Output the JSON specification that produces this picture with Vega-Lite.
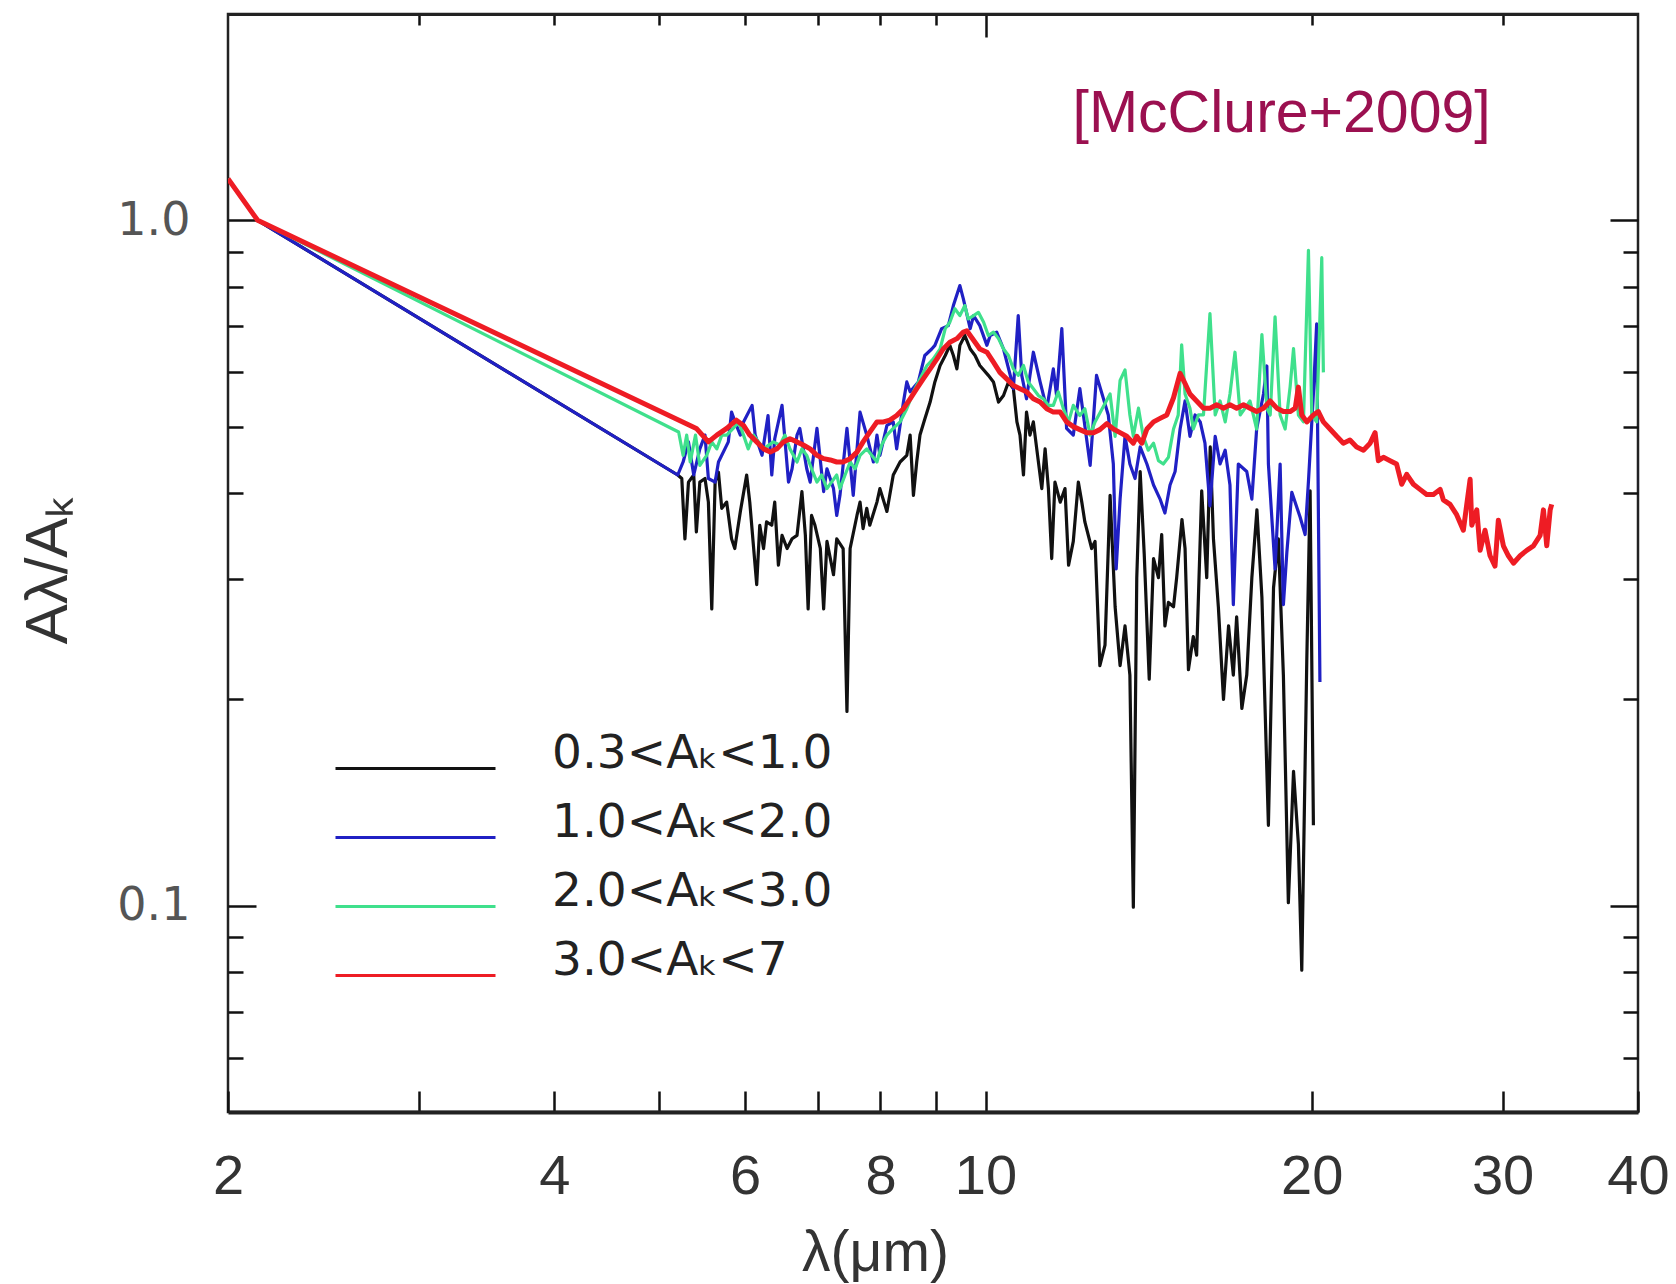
{
  "$schema": "https://vega.github.io/schema/vega-lite/v6.json",
  "width": 1410,
  "height": 1098,
  "autosize": {"type": "none"},
  "padding": {"left": 228, "top": 14, "right": 38, "bottom": 172},
  "background": "white",
  "config": {
    "view": {"stroke": "#222", "strokeWidth": 2.5},
    "axis": {"grid": false},
    "font": "Liberation Sans"
  },
  "datasets": {
    "spectra": [
      {"s": "0.3<Aₖ<1.0", "x": 2.0, "y": 1.15}, {"s": "0.3<Aₖ<1.0", "x": 2.13, "y": 1.0}, {"s": "0.3<Aₖ<1.0", "x": 5.2, "y": 0.425},
      {"s": "0.3<Aₖ<1.0", "x": 5.245, "y": 0.42}, {"s": "0.3<Aₖ<1.0", "x": 5.28, "y": 0.343}, {"s": "0.3<Aₖ<1.0", "x": 5.32, "y": 0.415}, {"s": "0.3<Aₖ<1.0", "x": 5.38, "y": 0.425}, {"s": "0.3<Aₖ<1.0", "x": 5.41, "y": 0.351}, {"s": "0.3<Aₖ<1.0", "x": 5.45, "y": 0.415}, {"s": "0.3<Aₖ<1.0", "x": 5.51, "y": 0.42}, {"s": "0.3<Aₖ<1.0", "x": 5.55, "y": 0.388}, {"s": "0.3<Aₖ<1.0", "x": 5.59, "y": 0.271}, {"s": "0.3<Aₖ<1.0", "x": 5.63, "y": 0.415}, {"s": "0.3<Aₖ<1.0", "x": 5.67, "y": 0.429}, {"s": "0.3<Aₖ<1.0", "x": 5.71, "y": 0.38}, {"s": "0.3<Aₖ<1.0", "x": 5.77, "y": 0.388}, {"s": "0.3<Aₖ<1.0", "x": 5.83, "y": 0.343}, {"s": "0.3<Aₖ<1.0", "x": 5.87, "y": 0.332}, {"s": "0.3<Aₖ<1.0", "x": 5.94, "y": 0.376}, {"s": "0.3<Aₖ<1.0", "x": 6.02, "y": 0.425}, {"s": "0.3<Aₖ<1.0", "x": 6.06, "y": 0.388}, {"s": "0.3<Aₖ<1.0", "x": 6.15, "y": 0.294}, {"s": "0.3<Aₖ<1.0", "x": 6.19, "y": 0.359}, {"s": "0.3<Aₖ<1.0", "x": 6.24, "y": 0.332}, {"s": "0.3<Aₖ<1.0", "x": 6.28, "y": 0.363}, {"s": "0.3<Aₖ<1.0", "x": 6.35, "y": 0.359}, {"s": "0.3<Aₖ<1.0", "x": 6.39, "y": 0.388}, {"s": "0.3<Aₖ<1.0", "x": 6.44, "y": 0.314}, {"s": "0.3<Aₖ<1.0", "x": 6.49, "y": 0.347}, {"s": "0.3<Aₖ<1.0", "x": 6.56, "y": 0.332}, {"s": "0.3<Aₖ<1.0", "x": 6.63, "y": 0.343}, {"s": "0.3<Aₖ<1.0", "x": 6.7, "y": 0.347}, {"s": "0.3<Aₖ<1.0", "x": 6.77, "y": 0.402}, {"s": "0.3<Aₖ<1.0", "x": 6.82, "y": 0.347}, {"s": "0.3<Aₖ<1.0", "x": 6.86, "y": 0.271}, {"s": "0.3<Aₖ<1.0", "x": 6.91, "y": 0.371}, {"s": "0.3<Aₖ<1.0", "x": 6.96, "y": 0.359}, {"s": "0.3<Aₖ<1.0", "x": 7.04, "y": 0.332}, {"s": "0.3<Aₖ<1.0", "x": 7.09, "y": 0.271}, {"s": "0.3<Aₖ<1.0", "x": 7.14, "y": 0.34}, {"s": "0.3<Aₖ<1.0", "x": 7.24, "y": 0.304}, {"s": "0.3<Aₖ<1.0", "x": 7.29, "y": 0.343}, {"s": "0.3<Aₖ<1.0", "x": 7.39, "y": 0.332}, {"s": "0.3<Aₖ<1.0", "x": 7.45, "y": 0.192}, {"s": "0.3<Aₖ<1.0", "x": 7.5, "y": 0.332}, {"s": "0.3<Aₖ<1.0", "x": 7.61, "y": 0.371}, {"s": "0.3<Aₖ<1.0", "x": 7.66, "y": 0.388}, {"s": "0.3<Aₖ<1.0", "x": 7.71, "y": 0.355}, {"s": "0.3<Aₖ<1.0", "x": 7.77, "y": 0.38}, {"s": "0.3<Aₖ<1.0", "x": 7.82, "y": 0.359}, {"s": "0.3<Aₖ<1.0", "x": 7.94, "y": 0.388}, {"s": "0.3<Aₖ<1.0", "x": 7.99, "y": 0.406}, {"s": "0.3<Aₖ<1.0", "x": 8.11, "y": 0.376}, {"s": "0.3<Aₖ<1.0", "x": 8.22, "y": 0.425}, {"s": "0.3<Aₖ<1.0", "x": 8.34, "y": 0.444}, {"s": "0.3<Aₖ<1.0", "x": 8.46, "y": 0.454}, {"s": "0.3<Aₖ<1.0", "x": 8.52, "y": 0.486}, {"s": "0.3<Aₖ<1.0", "x": 8.58, "y": 0.397}, {"s": "0.3<Aₖ<1.0", "x": 8.64, "y": 0.444}, {"s": "0.3<Aₖ<1.0", "x": 8.7, "y": 0.486}, {"s": "0.3<Aₖ<1.0", "x": 8.79, "y": 0.513}, {"s": "0.3<Aₖ<1.0", "x": 8.89, "y": 0.543}, {"s": "0.3<Aₖ<1.0", "x": 8.98, "y": 0.581}, {"s": "0.3<Aₖ<1.0", "x": 9.08, "y": 0.614}, {"s": "0.3<Aₖ<1.0", "x": 9.18, "y": 0.635}, {"s": "0.3<Aₖ<1.0", "x": 9.27, "y": 0.657}, {"s": "0.3<Aₖ<1.0", "x": 9.34, "y": 0.635}, {"s": "0.3<Aₖ<1.0", "x": 9.41, "y": 0.607}, {"s": "0.3<Aₖ<1.0", "x": 9.47, "y": 0.657}, {"s": "0.3<Aₖ<1.0", "x": 9.57, "y": 0.679}, {"s": "0.3<Aₖ<1.0", "x": 9.68, "y": 0.649}, {"s": "0.3<Aₖ<1.0", "x": 9.78, "y": 0.635}, {"s": "0.3<Aₖ<1.0", "x": 9.88, "y": 0.614}, {"s": "0.3<Aₖ<1.0", "x": 10.06, "y": 0.594}, {"s": "0.3<Aₖ<1.0", "x": 10.17, "y": 0.581}, {"s": "0.3<Aₖ<1.0", "x": 10.28, "y": 0.543}, {"s": "0.3<Aₖ<1.0", "x": 10.39, "y": 0.555}, {"s": "0.3<Aₖ<1.0", "x": 10.5, "y": 0.581}, {"s": "0.3<Aₖ<1.0", "x": 10.61, "y": 0.568}, {"s": "0.3<Aₖ<1.0", "x": 10.69, "y": 0.508}, {"s": "0.3<Aₖ<1.0", "x": 10.76, "y": 0.486}, {"s": "0.3<Aₖ<1.0", "x": 10.84, "y": 0.425}, {"s": "0.3<Aₖ<1.0", "x": 10.91, "y": 0.525}, {"s": "0.3<Aₖ<1.0", "x": 10.99, "y": 0.486}, {"s": "0.3<Aₖ<1.0", "x": 11.07, "y": 0.508}, {"s": "0.3<Aₖ<1.0", "x": 11.15, "y": 0.464}, {"s": "0.3<Aₖ<1.0", "x": 11.27, "y": 0.406}, {"s": "0.3<Aₖ<1.0", "x": 11.35, "y": 0.464}, {"s": "0.3<Aₖ<1.0", "x": 11.43, "y": 0.406}, {"s": "0.3<Aₖ<1.0", "x": 11.51, "y": 0.321}, {"s": "0.3<Aₖ<1.0", "x": 11.59, "y": 0.415}, {"s": "0.3<Aₖ<1.0", "x": 11.72, "y": 0.388}, {"s": "0.3<Aₖ<1.0", "x": 11.84, "y": 0.406}, {"s": "0.3<Aₖ<1.0", "x": 11.93, "y": 0.314}, {"s": "0.3<Aₖ<1.0", "x": 12.05, "y": 0.34}, {"s": "0.3<Aₖ<1.0", "x": 12.18, "y": 0.415}, {"s": "0.3<Aₖ<1.0", "x": 12.27, "y": 0.388}, {"s": "0.3<Aₖ<1.0", "x": 12.35, "y": 0.363}, {"s": "0.3<Aₖ<1.0", "x": 12.53, "y": 0.332}, {"s": "0.3<Aₖ<1.0", "x": 12.62, "y": 0.34}, {"s": "0.3<Aₖ<1.0", "x": 12.75, "y": 0.224}, {"s": "0.3<Aₖ<1.0", "x": 12.89, "y": 0.24}, {"s": "0.3<Aₖ<1.0", "x": 13.03, "y": 0.397}, {"s": "0.3<Aₖ<1.0", "x": 13.17, "y": 0.273}, {"s": "0.3<Aₖ<1.0", "x": 13.31, "y": 0.224}, {"s": "0.3<Aₖ<1.0", "x": 13.45, "y": 0.256}, {"s": "0.3<Aₖ<1.0", "x": 13.59, "y": 0.217}, {"s": "0.3<Aₖ<1.0", "x": 13.69, "y": 0.0995}, {"s": "0.3<Aₖ<1.0", "x": 13.79, "y": 0.301}, {"s": "0.3<Aₖ<1.0", "x": 13.89, "y": 0.43}, {"s": "0.3<Aₖ<1.0", "x": 14.01, "y": 0.326}, {"s": "0.3<Aₖ<1.0", "x": 14.16, "y": 0.214}, {"s": "0.3<Aₖ<1.0", "x": 14.29, "y": 0.321}, {"s": "0.3<Aₖ<1.0", "x": 14.44, "y": 0.301}, {"s": "0.3<Aₖ<1.0", "x": 14.54, "y": 0.348}, {"s": "0.3<Aₖ<1.0", "x": 14.64, "y": 0.256}, {"s": "0.3<Aₖ<1.0", "x": 14.75, "y": 0.277}, {"s": "0.3<Aₖ<1.0", "x": 14.91, "y": 0.273}, {"s": "0.3<Aₖ<1.0", "x": 15.01, "y": 0.301}, {"s": "0.3<Aₖ<1.0", "x": 15.18, "y": 0.366}, {"s": "0.3<Aₖ<1.0", "x": 15.28, "y": 0.332}, {"s": "0.3<Aₖ<1.0", "x": 15.39, "y": 0.221}, {"s": "0.3<Aₖ<1.0", "x": 15.55, "y": 0.247}, {"s": "0.3<Aₖ<1.0", "x": 15.66, "y": 0.232}, {"s": "0.3<Aₖ<1.0", "x": 15.83, "y": 0.403}, {"s": "0.3<Aₖ<1.0", "x": 16.0, "y": 0.301}, {"s": "0.3<Aₖ<1.0", "x": 16.12, "y": 0.467}, {"s": "0.3<Aₖ<1.0", "x": 16.23, "y": 0.343}, {"s": "0.3<Aₖ<1.0", "x": 16.4, "y": 0.273}, {"s": "0.3<Aₖ<1.0", "x": 16.58, "y": 0.2}, {"s": "0.3<Aₖ<1.0", "x": 16.76, "y": 0.256}, {"s": "0.3<Aₖ<1.0", "x": 16.93, "y": 0.217}, {"s": "0.3<Aₖ<1.0", "x": 17.05, "y": 0.264}, {"s": "0.3<Aₖ<1.0", "x": 17.24, "y": 0.194}, {"s": "0.3<Aₖ<1.0", "x": 17.42, "y": 0.217}, {"s": "0.3<Aₖ<1.0", "x": 17.61, "y": 0.301}, {"s": "0.3<Aₖ<1.0", "x": 17.8, "y": 0.378}, {"s": "0.3<Aₖ<1.0", "x": 17.99, "y": 0.282}, {"s": "0.3<Aₖ<1.0", "x": 18.24, "y": 0.131}, {"s": "0.3<Aₖ<1.0", "x": 18.44, "y": 0.291}, {"s": "0.3<Aₖ<1.0", "x": 18.63, "y": 0.343}, {"s": "0.3<Aₖ<1.0", "x": 18.83, "y": 0.217}, {"s": "0.3<Aₖ<1.0", "x": 19.03, "y": 0.101}, {"s": "0.3<Aₖ<1.0", "x": 19.24, "y": 0.157}, {"s": "0.3<Aₖ<1.0", "x": 19.44, "y": 0.123}, {"s": "0.3<Aₖ<1.0", "x": 19.58, "y": 0.0805}, {"s": "0.3<Aₖ<1.0", "x": 19.79, "y": 0.228}, {"s": "0.3<Aₖ<1.0", "x": 19.93, "y": 0.403}, {"s": "0.3<Aₖ<1.0", "x": 20.07, "y": 0.131},

      {"s": "1.0<Aₖ<2.0", "x": 2.0, "y": 1.15}, {"s": "1.0<Aₖ<2.0", "x": 2.13, "y": 1.0}, {"s": "1.0<Aₖ<2.0", "x": 5.2, "y": 0.425},
      {"s": "1.0<Aₖ<2.0", "x": 5.26, "y": 0.444}, {"s": "1.0<Aₖ<2.0", "x": 5.32, "y": 0.475}, {"s": "1.0<Aₖ<2.0", "x": 5.38, "y": 0.425}, {"s": "1.0<Aₖ<2.0", "x": 5.45, "y": 0.464}, {"s": "1.0<Aₖ<2.0", "x": 5.51, "y": 0.486}, {"s": "1.0<Aₖ<2.0", "x": 5.55, "y": 0.42}, {"s": "1.0<Aₖ<2.0", "x": 5.63, "y": 0.415}, {"s": "1.0<Aₖ<2.0", "x": 5.67, "y": 0.444}, {"s": "1.0<Aₖ<2.0", "x": 5.79, "y": 0.475}, {"s": "1.0<Aₖ<2.0", "x": 5.83, "y": 0.525}, {"s": "1.0<Aₖ<2.0", "x": 5.89, "y": 0.502}, {"s": "1.0<Aₖ<2.0", "x": 5.94, "y": 0.486}, {"s": "1.0<Aₖ<2.0", "x": 5.98, "y": 0.508}, {"s": "1.0<Aₖ<2.0", "x": 6.09, "y": 0.537}, {"s": "1.0<Aₖ<2.0", "x": 6.13, "y": 0.486}, {"s": "1.0<Aₖ<2.0", "x": 6.22, "y": 0.454}, {"s": "1.0<Aₖ<2.0", "x": 6.3, "y": 0.519}, {"s": "1.0<Aₖ<2.0", "x": 6.35, "y": 0.425}, {"s": "1.0<Aₖ<2.0", "x": 6.39, "y": 0.48}, {"s": "1.0<Aₖ<2.0", "x": 6.49, "y": 0.537}, {"s": "1.0<Aₖ<2.0", "x": 6.58, "y": 0.415}, {"s": "1.0<Aₖ<2.0", "x": 6.63, "y": 0.434}, {"s": "1.0<Aₖ<2.0", "x": 6.7, "y": 0.486}, {"s": "1.0<Aₖ<2.0", "x": 6.74, "y": 0.497}, {"s": "1.0<Aₖ<2.0", "x": 6.84, "y": 0.434}, {"s": "1.0<Aₖ<2.0", "x": 6.89, "y": 0.415}, {"s": "1.0<Aₖ<2.0", "x": 6.99, "y": 0.497}, {"s": "1.0<Aₖ<2.0", "x": 7.09, "y": 0.402}, {"s": "1.0<Aₖ<2.0", "x": 7.14, "y": 0.434}, {"s": "1.0<Aₖ<2.0", "x": 7.24, "y": 0.406}, {"s": "1.0<Aₖ<2.0", "x": 7.29, "y": 0.371}, {"s": "1.0<Aₖ<2.0", "x": 7.34, "y": 0.397}, {"s": "1.0<Aₖ<2.0", "x": 7.45, "y": 0.497}, {"s": "1.0<Aₖ<2.0", "x": 7.55, "y": 0.397}, {"s": "1.0<Aₖ<2.0", "x": 7.66, "y": 0.525}, {"s": "1.0<Aₖ<2.0", "x": 7.77, "y": 0.486}, {"s": "1.0<Aₖ<2.0", "x": 7.88, "y": 0.444}, {"s": "1.0<Aₖ<2.0", "x": 7.94, "y": 0.486}, {"s": "1.0<Aₖ<2.0", "x": 7.99, "y": 0.454}, {"s": "1.0<Aₖ<2.0", "x": 8.11, "y": 0.502}, {"s": "1.0<Aₖ<2.0", "x": 8.22, "y": 0.508}, {"s": "1.0<Aₖ<2.0", "x": 8.28, "y": 0.464}, {"s": "1.0<Aₖ<2.0", "x": 8.4, "y": 0.543}, {"s": "1.0<Aₖ<2.0", "x": 8.46, "y": 0.581}, {"s": "1.0<Aₖ<2.0", "x": 8.52, "y": 0.562}, {"s": "1.0<Aₖ<2.0", "x": 8.67, "y": 0.581}, {"s": "1.0<Aₖ<2.0", "x": 8.79, "y": 0.635}, {"s": "1.0<Aₖ<2.0", "x": 8.92, "y": 0.649}, {"s": "1.0<Aₖ<2.0", "x": 8.98, "y": 0.657}, {"s": "1.0<Aₖ<2.0", "x": 9.11, "y": 0.695}, {"s": "1.0<Aₖ<2.0", "x": 9.24, "y": 0.702}, {"s": "1.0<Aₖ<2.0", "x": 9.34, "y": 0.751}, {"s": "1.0<Aₖ<2.0", "x": 9.47, "y": 0.803}, {"s": "1.0<Aₖ<2.0", "x": 9.54, "y": 0.768}, {"s": "1.0<Aₖ<2.0", "x": 9.68, "y": 0.695}, {"s": "1.0<Aₖ<2.0", "x": 9.75, "y": 0.726}, {"s": "1.0<Aₖ<2.0", "x": 9.88, "y": 0.702}, {"s": "1.0<Aₖ<2.0", "x": 10.03, "y": 0.657}, {"s": "1.0<Aₖ<2.0", "x": 10.1, "y": 0.679}, {"s": "1.0<Aₖ<2.0", "x": 10.24, "y": 0.687}, {"s": "1.0<Aₖ<2.0", "x": 10.39, "y": 0.649}, {"s": "1.0<Aₖ<2.0", "x": 10.54, "y": 0.594}, {"s": "1.0<Aₖ<2.0", "x": 10.61, "y": 0.568}, {"s": "1.0<Aₖ<2.0", "x": 10.72, "y": 0.726}, {"s": "1.0<Aₖ<2.0", "x": 10.8, "y": 0.594}, {"s": "1.0<Aₖ<2.0", "x": 10.91, "y": 0.549}, {"s": "1.0<Aₖ<2.0", "x": 11.07, "y": 0.642}, {"s": "1.0<Aₖ<2.0", "x": 11.23, "y": 0.581}, {"s": "1.0<Aₖ<2.0", "x": 11.39, "y": 0.531}, {"s": "1.0<Aₖ<2.0", "x": 11.55, "y": 0.607}, {"s": "1.0<Aₖ<2.0", "x": 11.63, "y": 0.555}, {"s": "1.0<Aₖ<2.0", "x": 11.76, "y": 0.695}, {"s": "1.0<Aₖ<2.0", "x": 11.88, "y": 0.497}, {"s": "1.0<Aₖ<2.0", "x": 12.05, "y": 0.486}, {"s": "1.0<Aₖ<2.0", "x": 12.22, "y": 0.568}, {"s": "1.0<Aₖ<2.0", "x": 12.49, "y": 0.439}, {"s": "1.0<Aₖ<2.0", "x": 12.66, "y": 0.594}, {"s": "1.0<Aₖ<2.0", "x": 12.98, "y": 0.52}, {"s": "1.0<Aₖ<2.0", "x": 13.12, "y": 0.441}, {"s": "1.0<Aₖ<2.0", "x": 13.2, "y": 0.31}, {"s": "1.0<Aₖ<2.0", "x": 13.31, "y": 0.392}, {"s": "1.0<Aₖ<2.0", "x": 13.45, "y": 0.484}, {"s": "1.0<Aₖ<2.0", "x": 13.59, "y": 0.441}, {"s": "1.0<Aₖ<2.0", "x": 13.74, "y": 0.42}, {"s": "1.0<Aₖ<2.0", "x": 13.89, "y": 0.467}, {"s": "1.0<Aₖ<2.0", "x": 14.09, "y": 0.441}, {"s": "1.0<Aₖ<2.0", "x": 14.29, "y": 0.411}, {"s": "1.0<Aₖ<2.0", "x": 14.49, "y": 0.392}, {"s": "1.0<Aₖ<2.0", "x": 14.64, "y": 0.374}, {"s": "1.0<Aₖ<2.0", "x": 14.8, "y": 0.411}, {"s": "1.0<Aₖ<2.0", "x": 14.96, "y": 0.43}, {"s": "1.0<Aₖ<2.0", "x": 15.12, "y": 0.496}, {"s": "1.0<Aₖ<2.0", "x": 15.28, "y": 0.545}, {"s": "1.0<Aₖ<2.0", "x": 15.44, "y": 0.484}, {"s": "1.0<Aₖ<2.0", "x": 15.61, "y": 0.52}, {"s": "1.0<Aₖ<2.0", "x": 15.78, "y": 0.508}, {"s": "1.0<Aₖ<2.0", "x": 15.94, "y": 0.473}, {"s": "1.0<Aₖ<2.0", "x": 16.11, "y": 0.383}, {"s": "1.0<Aₖ<2.0", "x": 16.29, "y": 0.484}, {"s": "1.0<Aₖ<2.0", "x": 16.46, "y": 0.441}, {"s": "1.0<Aₖ<2.0", "x": 16.64, "y": 0.462}, {"s": "1.0<Aₖ<2.0", "x": 16.81, "y": 0.411}, {"s": "1.0<Aₖ<2.0", "x": 16.93, "y": 0.275}, {"s": "1.0<Aₖ<2.0", "x": 17.11, "y": 0.441}, {"s": "1.0<Aₖ<2.0", "x": 17.42, "y": 0.43}, {"s": "1.0<Aₖ<2.0", "x": 17.61, "y": 0.392}, {"s": "1.0<Aₖ<2.0", "x": 17.79, "y": 0.496}, {"s": "1.0<Aₖ<2.0", "x": 18.05, "y": 0.558}, {"s": "1.0<Aₖ<2.0", "x": 18.18, "y": 0.613}, {"s": "1.0<Aₖ<2.0", "x": 18.24, "y": 0.441}, {"s": "1.0<Aₖ<2.0", "x": 18.5, "y": 0.31}, {"s": "1.0<Aₖ<2.0", "x": 18.7, "y": 0.441}, {"s": "1.0<Aₖ<2.0", "x": 18.83, "y": 0.275}, {"s": "1.0<Aₖ<2.0", "x": 18.97, "y": 0.328}, {"s": "1.0<Aₖ<2.0", "x": 19.17, "y": 0.401}, {"s": "1.0<Aₖ<2.0", "x": 19.51, "y": 0.369}, {"s": "1.0<Aₖ<2.0", "x": 19.72, "y": 0.348}, {"s": "1.0<Aₖ<2.0", "x": 19.86, "y": 0.416}, {"s": "1.0<Aₖ<2.0", "x": 20.07, "y": 0.558}, {"s": "1.0<Aₖ<2.0", "x": 20.21, "y": 0.706}, {"s": "1.0<Aₖ<2.0", "x": 20.35, "y": 0.212},

      {"s": "2.0<Aₖ<3.0", "x": 2.0, "y": 1.15}, {"s": "2.0<Aₖ<3.0", "x": 2.13, "y": 1.0}, {"s": "2.0<Aₖ<3.0", "x": 5.21, "y": 0.491},
      {"s": "2.0<Aₖ<3.0", "x": 5.26, "y": 0.454}, {"s": "2.0<Aₖ<3.0", "x": 5.3, "y": 0.486}, {"s": "2.0<Aₖ<3.0", "x": 5.34, "y": 0.444}, {"s": "2.0<Aₖ<3.0", "x": 5.4, "y": 0.486}, {"s": "2.0<Aₖ<3.0", "x": 5.45, "y": 0.439}, {"s": "2.0<Aₖ<3.0", "x": 5.53, "y": 0.454}, {"s": "2.0<Aₖ<3.0", "x": 5.59, "y": 0.475}, {"s": "2.0<Aₖ<3.0", "x": 5.65, "y": 0.464}, {"s": "2.0<Aₖ<3.0", "x": 5.71, "y": 0.486}, {"s": "2.0<Aₖ<3.0", "x": 5.77, "y": 0.486}, {"s": "2.0<Aₖ<3.0", "x": 5.85, "y": 0.497}, {"s": "2.0<Aₖ<3.0", "x": 5.92, "y": 0.508}, {"s": "2.0<Aₖ<3.0", "x": 5.98, "y": 0.486}, {"s": "2.0<Aₖ<3.0", "x": 6.04, "y": 0.464}, {"s": "2.0<Aₖ<3.0", "x": 6.11, "y": 0.486}, {"s": "2.0<Aₖ<3.0", "x": 6.24, "y": 0.464}, {"s": "2.0<Aₖ<3.0", "x": 6.37, "y": 0.475}, {"s": "2.0<Aₖ<3.0", "x": 6.46, "y": 0.47}, {"s": "2.0<Aₖ<3.0", "x": 6.53, "y": 0.486}, {"s": "2.0<Aₖ<3.0", "x": 6.6, "y": 0.464}, {"s": "2.0<Aₖ<3.0", "x": 6.7, "y": 0.444}, {"s": "2.0<Aₖ<3.0", "x": 6.77, "y": 0.464}, {"s": "2.0<Aₖ<3.0", "x": 6.84, "y": 0.454}, {"s": "2.0<Aₖ<3.0", "x": 6.91, "y": 0.434}, {"s": "2.0<Aₖ<3.0", "x": 6.99, "y": 0.415}, {"s": "2.0<Aₖ<3.0", "x": 7.06, "y": 0.425}, {"s": "2.0<Aₖ<3.0", "x": 7.14, "y": 0.406}, {"s": "2.0<Aₖ<3.0", "x": 7.21, "y": 0.415}, {"s": "2.0<Aₖ<3.0", "x": 7.29, "y": 0.425}, {"s": "2.0<Aₖ<3.0", "x": 7.34, "y": 0.406}, {"s": "2.0<Aₖ<3.0", "x": 7.42, "y": 0.425}, {"s": "2.0<Aₖ<3.0", "x": 7.5, "y": 0.444}, {"s": "2.0<Aₖ<3.0", "x": 7.58, "y": 0.434}, {"s": "2.0<Aₖ<3.0", "x": 7.66, "y": 0.454}, {"s": "2.0<Aₖ<3.0", "x": 7.77, "y": 0.464}, {"s": "2.0<Aₖ<3.0", "x": 7.94, "y": 0.444}, {"s": "2.0<Aₖ<3.0", "x": 8.02, "y": 0.47}, {"s": "2.0<Aₖ<3.0", "x": 8.11, "y": 0.486}, {"s": "2.0<Aₖ<3.0", "x": 8.22, "y": 0.497}, {"s": "2.0<Aₖ<3.0", "x": 8.34, "y": 0.508}, {"s": "2.0<Aₖ<3.0", "x": 8.46, "y": 0.531}, {"s": "2.0<Aₖ<3.0", "x": 8.58, "y": 0.562}, {"s": "2.0<Aₖ<3.0", "x": 8.7, "y": 0.587}, {"s": "2.0<Aₖ<3.0", "x": 8.83, "y": 0.614}, {"s": "2.0<Aₖ<3.0", "x": 8.95, "y": 0.628}, {"s": "2.0<Aₖ<3.0", "x": 9.08, "y": 0.649}, {"s": "2.0<Aₖ<3.0", "x": 9.18, "y": 0.695}, {"s": "2.0<Aₖ<3.0", "x": 9.27, "y": 0.71}, {"s": "2.0<Aₖ<3.0", "x": 9.37, "y": 0.743}, {"s": "2.0<Aₖ<3.0", "x": 9.47, "y": 0.726}, {"s": "2.0<Aₖ<3.0", "x": 9.57, "y": 0.751}, {"s": "2.0<Aₖ<3.0", "x": 9.64, "y": 0.718}, {"s": "2.0<Aₖ<3.0", "x": 9.75, "y": 0.726}, {"s": "2.0<Aₖ<3.0", "x": 9.85, "y": 0.734}, {"s": "2.0<Aₖ<3.0", "x": 9.96, "y": 0.71}, {"s": "2.0<Aₖ<3.0", "x": 10.06, "y": 0.679}, {"s": "2.0<Aₖ<3.0", "x": 10.17, "y": 0.687}, {"s": "2.0<Aₖ<3.0", "x": 10.28, "y": 0.672}, {"s": "2.0<Aₖ<3.0", "x": 10.39, "y": 0.649}, {"s": "2.0<Aₖ<3.0", "x": 10.5, "y": 0.635}, {"s": "2.0<Aₖ<3.0", "x": 10.61, "y": 0.607}, {"s": "2.0<Aₖ<3.0", "x": 10.72, "y": 0.594}, {"s": "2.0<Aₖ<3.0", "x": 10.84, "y": 0.614}, {"s": "2.0<Aₖ<3.0", "x": 10.95, "y": 0.581}, {"s": "2.0<Aₖ<3.0", "x": 11.07, "y": 0.568}, {"s": "2.0<Aₖ<3.0", "x": 11.19, "y": 0.555}, {"s": "2.0<Aₖ<3.0", "x": 11.31, "y": 0.549}, {"s": "2.0<Aₖ<3.0", "x": 11.43, "y": 0.537}, {"s": "2.0<Aₖ<3.0", "x": 11.55, "y": 0.537}, {"s": "2.0<Aₖ<3.0", "x": 11.67, "y": 0.562}, {"s": "2.0<Aₖ<3.0", "x": 11.8, "y": 0.531}, {"s": "2.0<Aₖ<3.0", "x": 11.93, "y": 0.508}, {"s": "2.0<Aₖ<3.0", "x": 12.05, "y": 0.537}, {"s": "2.0<Aₖ<3.0", "x": 12.22, "y": 0.519}, {"s": "2.0<Aₖ<3.0", "x": 12.35, "y": 0.531}, {"s": "2.0<Aₖ<3.0", "x": 12.49, "y": 0.486}, {"s": "2.0<Aₖ<3.0", "x": 12.62, "y": 0.508}, {"s": "2.0<Aₖ<3.0", "x": 13.03, "y": 0.558}, {"s": "2.0<Aₖ<3.0", "x": 13.17, "y": 0.484}, {"s": "2.0<Aₖ<3.0", "x": 13.31, "y": 0.584}, {"s": "2.0<Aₖ<3.0", "x": 13.45, "y": 0.605}, {"s": "2.0<Aₖ<3.0", "x": 13.59, "y": 0.52}, {"s": "2.0<Aₖ<3.0", "x": 13.69, "y": 0.484}, {"s": "2.0<Aₖ<3.0", "x": 13.84, "y": 0.532}, {"s": "2.0<Aₖ<3.0", "x": 13.98, "y": 0.484}, {"s": "2.0<Aₖ<3.0", "x": 14.13, "y": 0.462}, {"s": "2.0<Aₖ<3.0", "x": 14.29, "y": 0.473}, {"s": "2.0<Aₖ<3.0", "x": 14.44, "y": 0.446}, {"s": "2.0<Aₖ<3.0", "x": 14.59, "y": 0.441}, {"s": "2.0<Aₖ<3.0", "x": 14.75, "y": 0.451}, {"s": "2.0<Aₖ<3.0", "x": 14.91, "y": 0.496}, {"s": "2.0<Aₖ<3.0", "x": 15.06, "y": 0.52}, {"s": "2.0<Aₖ<3.0", "x": 15.17, "y": 0.658}, {"s": "2.0<Aₖ<3.0", "x": 15.28, "y": 0.558}, {"s": "2.0<Aₖ<3.0", "x": 15.44, "y": 0.532}, {"s": "2.0<Aₖ<3.0", "x": 15.55, "y": 0.496}, {"s": "2.0<Aₖ<3.0", "x": 15.72, "y": 0.52}, {"s": "2.0<Aₖ<3.0", "x": 15.89, "y": 0.52}, {"s": "2.0<Aₖ<3.0", "x": 16.11, "y": 0.731}, {"s": "2.0<Aₖ<3.0", "x": 16.29, "y": 0.52}, {"s": "2.0<Aₖ<3.0", "x": 16.46, "y": 0.545}, {"s": "2.0<Aₖ<3.0", "x": 16.64, "y": 0.508}, {"s": "2.0<Aₖ<3.0", "x": 16.81, "y": 0.558}, {"s": "2.0<Aₖ<3.0", "x": 16.99, "y": 0.642}, {"s": "2.0<Aₖ<3.0", "x": 17.18, "y": 0.52}, {"s": "2.0<Aₖ<3.0", "x": 17.36, "y": 0.532}, {"s": "2.0<Aₖ<3.0", "x": 17.54, "y": 0.545}, {"s": "2.0<Aₖ<3.0", "x": 17.79, "y": 0.496}, {"s": "2.0<Aₖ<3.0", "x": 17.99, "y": 0.681}, {"s": "2.0<Aₖ<3.0", "x": 18.18, "y": 0.532}, {"s": "2.0<Aₖ<3.0", "x": 18.31, "y": 0.52}, {"s": "2.0<Aₖ<3.0", "x": 18.5, "y": 0.723}, {"s": "2.0<Aₖ<3.0", "x": 18.7, "y": 0.52}, {"s": "2.0<Aₖ<3.0", "x": 18.9, "y": 0.496}, {"s": "2.0<Aₖ<3.0", "x": 19.1, "y": 0.571}, {"s": "2.0<Aₖ<3.0", "x": 19.24, "y": 0.65}, {"s": "2.0<Aₖ<3.0", "x": 19.44, "y": 0.52}, {"s": "2.0<Aₖ<3.0", "x": 19.65, "y": 0.508}, {"s": "2.0<Aₖ<3.0", "x": 19.86, "y": 0.904}, {"s": "2.0<Aₖ<3.0", "x": 20.0, "y": 0.52}, {"s": "2.0<Aₖ<3.0", "x": 20.21, "y": 0.508}, {"s": "2.0<Aₖ<3.0", "x": 20.43, "y": 0.882}, {"s": "2.0<Aₖ<3.0", "x": 20.5, "y": 0.6},

      {"s": "3.0<Aₖ<7", "x": 2.0, "y": 1.15}, {"s": "3.0<Aₖ<7", "x": 2.13, "y": 1.0}, {"s": "3.0<Aₖ<7", "x": 5.41, "y": 0.497},
      {"s": "3.0<Aₖ<7", "x": 5.55, "y": 0.475}, {"s": "3.0<Aₖ<7", "x": 5.65, "y": 0.486}, {"s": "3.0<Aₖ<7", "x": 5.77, "y": 0.497}, {"s": "3.0<Aₖ<7", "x": 5.89, "y": 0.511}, {"s": "3.0<Aₖ<7", "x": 5.98, "y": 0.502}, {"s": "3.0<Aₖ<7", "x": 6.06, "y": 0.486}, {"s": "3.0<Aₖ<7", "x": 6.15, "y": 0.475}, {"s": "3.0<Aₖ<7", "x": 6.24, "y": 0.464}, {"s": "3.0<Aₖ<7", "x": 6.33, "y": 0.459}, {"s": "3.0<Aₖ<7", "x": 6.42, "y": 0.464}, {"s": "3.0<Aₖ<7", "x": 6.51, "y": 0.475}, {"s": "3.0<Aₖ<7", "x": 6.6, "y": 0.48}, {"s": "3.0<Aₖ<7", "x": 6.7, "y": 0.475}, {"s": "3.0<Aₖ<7", "x": 6.79, "y": 0.47}, {"s": "3.0<Aₖ<7", "x": 6.89, "y": 0.464}, {"s": "3.0<Aₖ<7", "x": 6.99, "y": 0.454}, {"s": "3.0<Aₖ<7", "x": 7.09, "y": 0.449}, {"s": "3.0<Aₖ<7", "x": 7.19, "y": 0.447}, {"s": "3.0<Aₖ<7", "x": 7.29, "y": 0.444}, {"s": "3.0<Aₖ<7", "x": 7.39, "y": 0.444}, {"s": "3.0<Aₖ<7", "x": 7.5, "y": 0.449}, {"s": "3.0<Aₖ<7", "x": 7.61, "y": 0.459}, {"s": "3.0<Aₖ<7", "x": 7.71, "y": 0.475}, {"s": "3.0<Aₖ<7", "x": 7.82, "y": 0.491}, {"s": "3.0<Aₖ<7", "x": 7.94, "y": 0.508}, {"s": "3.0<Aₖ<7", "x": 8.05, "y": 0.508}, {"s": "3.0<Aₖ<7", "x": 8.16, "y": 0.511}, {"s": "3.0<Aₖ<7", "x": 8.28, "y": 0.519}, {"s": "3.0<Aₖ<7", "x": 8.4, "y": 0.531}, {"s": "3.0<Aₖ<7", "x": 8.52, "y": 0.549}, {"s": "3.0<Aₖ<7", "x": 8.64, "y": 0.568}, {"s": "3.0<Aₖ<7", "x": 8.76, "y": 0.587}, {"s": "3.0<Aₖ<7", "x": 8.89, "y": 0.607}, {"s": "3.0<Aₖ<7", "x": 9.02, "y": 0.628}, {"s": "3.0<Aₖ<7", "x": 9.14, "y": 0.649}, {"s": "3.0<Aₖ<7", "x": 9.27, "y": 0.664}, {"s": "3.0<Aₖ<7", "x": 9.41, "y": 0.672}, {"s": "3.0<Aₖ<7", "x": 9.54, "y": 0.687}, {"s": "3.0<Aₖ<7", "x": 9.61, "y": 0.69}, {"s": "3.0<Aₖ<7", "x": 9.68, "y": 0.679}, {"s": "3.0<Aₖ<7", "x": 9.78, "y": 0.664}, {"s": "3.0<Aₖ<7", "x": 9.88, "y": 0.649}, {"s": "3.0<Aₖ<7", "x": 10.03, "y": 0.642}, {"s": "3.0<Aₖ<7", "x": 10.17, "y": 0.621}, {"s": "3.0<Aₖ<7", "x": 10.31, "y": 0.6}, {"s": "3.0<Aₖ<7", "x": 10.46, "y": 0.587}, {"s": "3.0<Aₖ<7", "x": 10.61, "y": 0.574}, {"s": "3.0<Aₖ<7", "x": 10.76, "y": 0.568}, {"s": "3.0<Aₖ<7", "x": 10.91, "y": 0.562}, {"s": "3.0<Aₖ<7", "x": 11.07, "y": 0.549}, {"s": "3.0<Aₖ<7", "x": 11.23, "y": 0.543}, {"s": "3.0<Aₖ<7", "x": 11.39, "y": 0.531}, {"s": "3.0<Aₖ<7", "x": 11.55, "y": 0.525}, {"s": "3.0<Aₖ<7", "x": 11.72, "y": 0.525}, {"s": "3.0<Aₖ<7", "x": 11.88, "y": 0.508}, {"s": "3.0<Aₖ<7", "x": 12.05, "y": 0.5}, {"s": "3.0<Aₖ<7", "x": 12.22, "y": 0.495}, {"s": "3.0<Aₖ<7", "x": 12.4, "y": 0.49}, {"s": "3.0<Aₖ<7", "x": 12.58, "y": 0.49}, {"s": "3.0<Aₖ<7", "x": 12.75, "y": 0.495}, {"s": "3.0<Aₖ<7", "x": 12.94, "y": 0.505}, {"s": "3.0<Aₖ<7", "x": 13.12, "y": 0.496}, {"s": "3.0<Aₖ<7", "x": 13.31, "y": 0.49}, {"s": "3.0<Aₖ<7", "x": 13.5, "y": 0.484}, {"s": "3.0<Aₖ<7", "x": 13.69, "y": 0.473}, {"s": "3.0<Aₖ<7", "x": 13.79, "y": 0.484}, {"s": "3.0<Aₖ<7", "x": 13.94, "y": 0.473}, {"s": "3.0<Aₖ<7", "x": 14.09, "y": 0.496}, {"s": "3.0<Aₖ<7", "x": 14.29, "y": 0.508}, {"s": "3.0<Aₖ<7", "x": 14.49, "y": 0.514}, {"s": "3.0<Aₖ<7", "x": 14.7, "y": 0.52}, {"s": "3.0<Aₖ<7", "x": 14.91, "y": 0.551}, {"s": "3.0<Aₖ<7", "x": 15.12, "y": 0.598}, {"s": "3.0<Aₖ<7", "x": 15.28, "y": 0.578}, {"s": "3.0<Aₖ<7", "x": 15.44, "y": 0.558}, {"s": "3.0<Aₖ<7", "x": 15.66, "y": 0.545}, {"s": "3.0<Aₖ<7", "x": 15.89, "y": 0.532}, {"s": "3.0<Aₖ<7", "x": 16.11, "y": 0.532}, {"s": "3.0<Aₖ<7", "x": 16.34, "y": 0.538}, {"s": "3.0<Aₖ<7", "x": 16.58, "y": 0.532}, {"s": "3.0<Aₖ<7", "x": 16.81, "y": 0.538}, {"s": "3.0<Aₖ<7", "x": 17.05, "y": 0.532}, {"s": "3.0<Aₖ<7", "x": 17.3, "y": 0.538}, {"s": "3.0<Aₖ<7", "x": 17.54, "y": 0.532}, {"s": "3.0<Aₖ<7", "x": 17.79, "y": 0.526}, {"s": "3.0<Aₖ<7", "x": 18.05, "y": 0.532}, {"s": "3.0<Aₖ<7", "x": 18.31, "y": 0.545}, {"s": "3.0<Aₖ<7", "x": 18.57, "y": 0.532}, {"s": "3.0<Aₖ<7", "x": 18.83, "y": 0.526}, {"s": "3.0<Aₖ<7", "x": 19.1, "y": 0.526}, {"s": "3.0<Aₖ<7", "x": 19.31, "y": 0.532}, {"s": "3.0<Aₖ<7", "x": 19.44, "y": 0.571}, {"s": "3.0<Aₖ<7", "x": 19.58, "y": 0.52}, {"s": "3.0<Aₖ<7", "x": 19.79, "y": 0.508}, {"s": "3.0<Aₖ<7", "x": 20.07, "y": 0.52}, {"s": "3.0<Aₖ<7", "x": 20.28, "y": 0.526}, {"s": "3.0<Aₖ<7", "x": 20.5, "y": 0.508}, {"s": "3.0<Aₖ<7", "x": 20.79, "y": 0.496}, {"s": "3.0<Aₖ<7", "x": 21.09, "y": 0.484}, {"s": "3.0<Aₖ<7", "x": 21.39, "y": 0.473}, {"s": "3.0<Aₖ<7", "x": 21.69, "y": 0.478}, {"s": "3.0<Aₖ<7", "x": 22.0, "y": 0.467}, {"s": "3.0<Aₖ<7", "x": 22.32, "y": 0.462}, {"s": "3.0<Aₖ<7", "x": 22.64, "y": 0.473}, {"s": "3.0<Aₖ<7", "x": 22.88, "y": 0.49}, {"s": "3.0<Aₖ<7", "x": 23.04, "y": 0.446}, {"s": "3.0<Aₖ<7", "x": 23.29, "y": 0.451}, {"s": "3.0<Aₖ<7", "x": 23.62, "y": 0.446}, {"s": "3.0<Aₖ<7", "x": 23.95, "y": 0.441}, {"s": "3.0<Aₖ<7", "x": 24.21, "y": 0.412}, {"s": "3.0<Aₖ<7", "x": 24.47, "y": 0.426}, {"s": "3.0<Aₖ<7", "x": 24.82, "y": 0.412}, {"s": "3.0<Aₖ<7", "x": 25.17, "y": 0.405}, {"s": "3.0<Aₖ<7", "x": 25.53, "y": 0.398}, {"s": "3.0<Aₖ<7", "x": 25.9, "y": 0.398}, {"s": "3.0<Aₖ<7", "x": 26.27, "y": 0.405}, {"s": "3.0<Aₖ<7", "x": 26.45, "y": 0.391}, {"s": "3.0<Aₖ<7", "x": 26.83, "y": 0.385}, {"s": "3.0<Aₖ<7", "x": 27.21, "y": 0.372}, {"s": "3.0<Aₖ<7", "x": 27.6, "y": 0.353}, {"s": "3.0<Aₖ<7", "x": 28.0, "y": 0.419}, {"s": "3.0<Aₖ<7", "x": 28.1, "y": 0.359}, {"s": "3.0<Aₖ<7", "x": 28.4, "y": 0.378}, {"s": "3.0<Aₖ<7", "x": 28.6, "y": 0.33}, {"s": "3.0<Aₖ<7", "x": 28.9, "y": 0.353}, {"s": "3.0<Aₖ<7", "x": 29.21, "y": 0.324}, {"s": "3.0<Aₖ<7", "x": 29.52, "y": 0.313}, {"s": "3.0<Aₖ<7", "x": 29.73, "y": 0.365}, {"s": "3.0<Aₖ<7", "x": 30.05, "y": 0.335}, {"s": "3.0<Aₖ<7", "x": 30.37, "y": 0.324}, {"s": "3.0<Aₖ<7", "x": 30.7, "y": 0.316}, {"s": "3.0<Aₖ<7", "x": 31.14, "y": 0.324}, {"s": "3.0<Aₖ<7", "x": 31.58, "y": 0.33}, {"s": "3.0<Aₖ<7", "x": 32.03, "y": 0.335}, {"s": "3.0<Aₖ<7", "x": 32.49, "y": 0.347}, {"s": "3.0<Aₖ<7", "x": 32.72, "y": 0.378}, {"s": "3.0<Aₖ<7", "x": 32.95, "y": 0.335}, {"s": "3.0<Aₖ<7", "x": 33.19, "y": 0.378}, {"s": "3.0<Aₖ<7", "x": 33.3, "y": 0.385}
    ]
  },
  "layer": [
    {
      "data": {"name": "spectra"},
      "encoding": {
        "x": {
          "field": "x", "type": "quantitative",
          "scale": {"type": "log", "domain": [2, 40], "nice": false},
          "axis": {
            "orient": "bottom",
            "values": [2, 3, 4, 5, 6, 7, 8, 9, 10, 20, 30, 40],
            "labelExpr": "indexof([3, 5, 7, 9], datum.value) >= 0 ? '' : format(datum.value, 'd')",
            "tickSize": -21, "tickWidth": 2.5, "tickColor": "#111",
            "domain": true, "domainWidth": 4, "domainColor": "#222",
            "labelPadding": 58, "labelFontSize": 56, "labelFont": "Liberation Sans", "labelColor": "#333",
            "labelBaseline": "top", "labelFlush": false, "labelOverlap": false,
            "title": "λ(μm)", "titleFont": "Liberation Sans", "titleFontSize": 57, "titleFontWeight": "normal", "titleColor": "#333",
            "titleX": 647, "titleY": 158, "titleBaseline": "alphabetic"
          }
        },
        "y": {
          "field": "y", "type": "quantitative",
          "scale": {"type": "log", "domain": [0.05, 2.0], "nice": false},
          "axis": {
            "orient": "left",
            "values": [0.06, 0.07, 0.08, 0.09, 0.1, 0.2, 0.3, 0.4, 0.5, 0.6, 0.7, 0.8, 0.9, 1],
            "labelExpr": "datum.value == 1 ? '1.0' : (datum.value == 0.1 ? '0.1' : '')",
            "tickSize": {"condition": {"test": "datum.value == 1 || datum.value == 0.1", "value": -28}, "value": -15},
            "tickWidth": 2.5, "tickColor": "#111",
            "domain": false,
            "labelPadding": 66, "labelFontSize": 46, "labelFont": "DejaVu Sans", "labelColor": "#555", "labelOverlap": false, "labelFlush": false,
            "title": "Aλ/Aₖ", "titleFont": "Liberation Sans", "titleFontSize": 60, "titleFontWeight": "normal", "titleColor": "#333",
            "titleX": -162, "titleY": 556, "titleBaseline": "alphabetic", "titleAlign": "center"
          }
        },
        "color": {
          "field": "s", "type": "nominal",
          "scale": {"domain": ["0.3<Aₖ<1.0", "1.0<Aₖ<2.0", "2.0<Aₖ<3.0", "3.0<Aₖ<7"], "range": ["#111111", "#2020c4", "#3fe08c", "#ee1c24"]},
          "legend": {
            "orient": "none", "legendX": 164, "legendY": 716, "title": null, "padding": 0,
            "symbolType": "M-4,0.75H4", "symbolSize": 1600, "symbolStrokeWidth": 3.2,
            "labelFontSize": 47, "labelFont": "DejaVu Sans", "labelColor": "#222", "labelOffset": 113, "labelLimit": 0,
            "rowPadding": 21
          }
        }
      },
      "layer": [
        {
          "transform": [{"filter": "datum.s != '3.0<Aₖ<7'"}],
          "mark": {"type": "line", "clip": true, "strokeJoin": "round", "strokeWidth": 3.2}
        },
        {
          "transform": [{"filter": "datum.s == '3.0<Aₖ<7'"}],
          "mark": {"type": "line", "clip": true, "strokeJoin": "round", "strokeWidth": 5}
        }
      ]
    },
    {
      "data": {"values": [{}]},
      "mark": {"type": "text", "fontSize": 59, "font": "Liberation Sans", "color": "#9b1050", "align": "center", "baseline": "middle"},
      "encoding": {
        "x": {"datum": 18.76, "type": "quantitative", "axis": null},
        "y": {"datum": 1.43, "type": "quantitative", "axis": null},
        "text": {"value": "[McClure+2009]"}
      }
    },
    {
      "data": {"values": [{"x": 2, "y": 1}]},
      "mark": {"type": "point", "opacity": 0},
      "encoding": {
        "x": {
          "field": "x", "type": "quantitative",
          "scale": {"type": "log", "domain": [2, 40], "nice": false},
          "axis": {
            "orient": "top", "values": [3, 4, 5, 6, 7, 8, 9, 10, 20, 30], "labels": false, "title": null,
            "tickSize": {"condition": {"test": "datum.value == 10", "value": -23}, "value": -11},
            "tickWidth": 2.5, "tickColor": "#111", "domain": true, "domainWidth": 3, "domainColor": "#222"
          }
        },
        "y": {
          "field": "y", "type": "quantitative",
          "scale": {"type": "log", "domain": [0.05, 2.0], "nice": false},
          "axis": {
            "orient": "right", "values": [0.06, 0.07, 0.08, 0.09, 0.1, 0.2, 0.3, 0.4, 0.5, 0.6, 0.7, 0.8, 0.9, 1], "labels": false, "title": null,
            "tickSize": {"condition": {"test": "datum.value == 1 || datum.value == 0.1", "value": -28}, "value": -15},
            "tickWidth": 2.5, "tickColor": "#111", "domain": false
          }
        }
      }
    }
  ],
  "resolve": {"axis": {"x": "independent", "y": "independent"}}
}
